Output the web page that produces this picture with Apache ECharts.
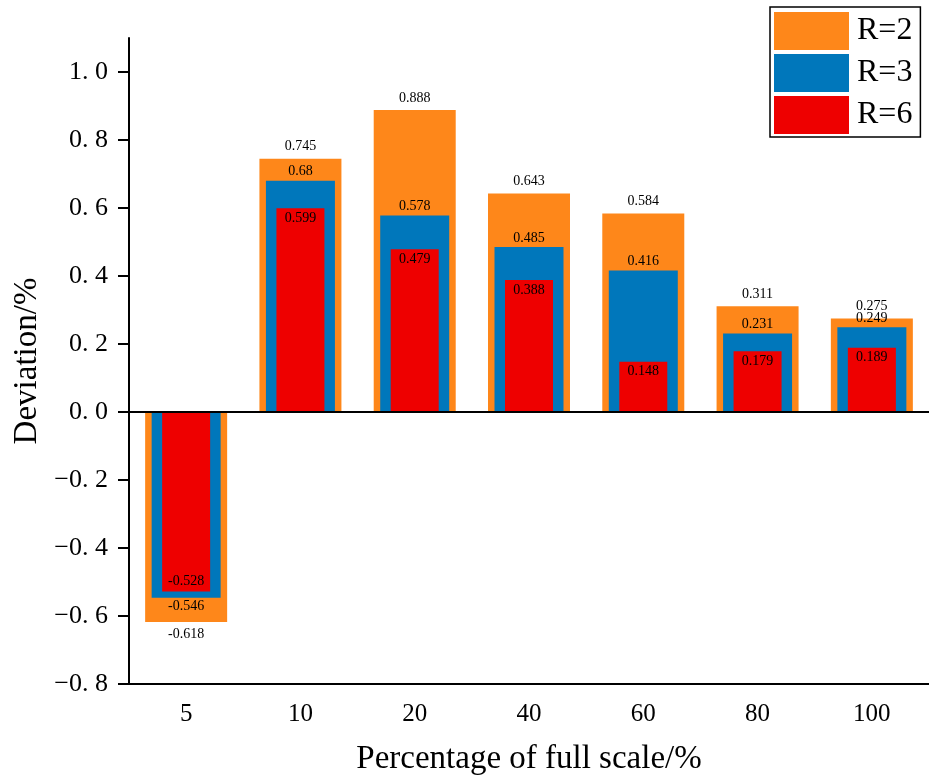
<!DOCTYPE html>
<html>
<head>
<meta charset="utf-8">
<script src="https://cdn.jsdelivr.net/npm/echarts@6/dist/echarts.min.js"></script>
<style>
  html, body { margin: 0; padding: 0; background: #fff; }
  #chart { width: 929px; height: 781px; }
</style>
</head>
<body>
<div id="chart"></div>
<script>
// Full-scale percentages (x categories)
const categories = ['5', '10', '20', '40', '60', '80', '100'];
// Deviation (%) for each ratio
const seriesR2 = [-0.618, 0.745, 0.888, 0.643, 0.584, 0.311, 0.275];
const seriesR3 = [-0.546, 0.68, 0.578, 0.485, 0.416, 0.231, 0.249];
const seriesR6 = [-0.528, 0.599, 0.479, 0.388, 0.148, 0.179, 0.189];
// Y tick positions
const yTicks = [-0.8, -0.6, -0.4, -0.2, 0, 0.2, 0.4, 0.6, 0.8, 1.0];

const FONT = '"Liberation Serif", "Times New Roman", serif';

function fmtTick(v) {
  const s = Math.abs(v).toFixed(1).replace('.', '. ');
  return (v < 0 ? '\u2212' : '') + s;
}

// Per-point label placement: positive bars label at top, negative bars below
function withLabels(values, posPos, negPos, dist) {
  return values.map(v => ({
    value: v,
    label: { position: v < 0 ? negPos : posPos, distance: dist }
  }));
}

const labelStyle = {
  show: true,
  color: '#000',
  fontFamily: FONT,
  fontSize: 14,
  formatter: p => String(p.value)
};

const chart = echarts.init(document.getElementById('chart'), null, { renderer: 'canvas' });

const hiddenX = {
  type: 'category',
  data: categories,
  show: false,
  gridIndex: 0
};

chart.setOption({
  animation: false,
  backgroundColor: '#fff',
  grid: { left: 129, top: 38, width: 804, height: 648, containLabel: false },
  legend: {
    orient: 'vertical',
    left: 770,
    top: 7,
    padding: [5, 8, 3, 4],
    itemGap: 4,
    itemWidth: 75,
    itemHeight: 38,
    icon: 'rect',
    borderColor: '#000',
    borderWidth: 1.5,
    textStyle: { fontFamily: FONT, fontSize: 32, color: '#000', padding: [0, 0, 0, 3] },
    data: ['R=2', 'R=3', 'R=6']
  },
  xAxis: [
    {
      type: 'category',
      data: categories,
      position: 'bottom',
      name: 'Percentage of full scale/%',
      nameLocation: 'middle',
      nameGap: 59,
      nameTextStyle: { fontFamily: FONT, fontSize: 33, color: '#000' },
      axisLine: { onZero: false, lineStyle: { color: '#000', width: 2 } },
      axisTick: { alignWithLabel: true, inside: true, length: 12, lineStyle: { color: '#000', width: 2 } },
      axisLabel: { fontFamily: FONT, fontSize: 25, color: '#000', margin: 18 },
      splitLine: { show: false }
    },
    hiddenX,
    Object.assign({}, hiddenX)
  ],
  yAxis: {
    type: 'value',
    min: -0.8,
    max: 1.1,
    interval: 0.2,
    name: 'Deviation/%',
    nameLocation: 'middle',
    nameGap: 80,
    nameTextStyle: { fontFamily: FONT, fontSize: 33, color: '#000' },
    axisLine: { show: true, lineStyle: { color: '#000', width: 2 } },
    axisTick: {
      show: true, inside: false, length: 11,
      customValues: yTicks,
      lineStyle: { color: '#000', width: 2 }
    },
    axisLabel: {
      fontFamily: FONT, fontSize: 26, color: '#000', margin: 21,
      customValues: yTicks,
      formatter: v => fmtTick(v)
    },
    splitLine: { show: false }
  },
  series: [
    {
      name: 'R=2',
      type: 'bar',
      xAxisIndex: 0,
      barWidth: 82,
      itemStyle: { color: '#FE871A' },
      label: Object.assign({}, labelStyle),
      data: withLabels(seriesR2, 'top', 'bottom', 5),
      markLine: {
        silent: true,
        symbol: 'none',
        label: { show: false },
        lineStyle: { color: '#000', width: 2, type: 'solid' },
        data: [{ yAxis: 0 }]
      },
      z: 2
    },
    {
      name: 'R=3',
      type: 'bar',
      xAxisIndex: 1,
      barWidth: 69,
      itemStyle: { color: '#0077BB' },
      label: Object.assign({}, labelStyle),
      data: withLabels(seriesR3, 'top', 'bottom', 2),
      z: 3
    },
    {
      name: 'R=6',
      type: 'bar',
      xAxisIndex: 2,
      barWidth: 48,
      itemStyle: { color: '#EE0000' },
      label: Object.assign({}, labelStyle),
      data: withLabels(seriesR6, 'insideTop', 'insideBottom', 3),
      z: 4
    }
  ]
});
</script>
</body>
</html>
